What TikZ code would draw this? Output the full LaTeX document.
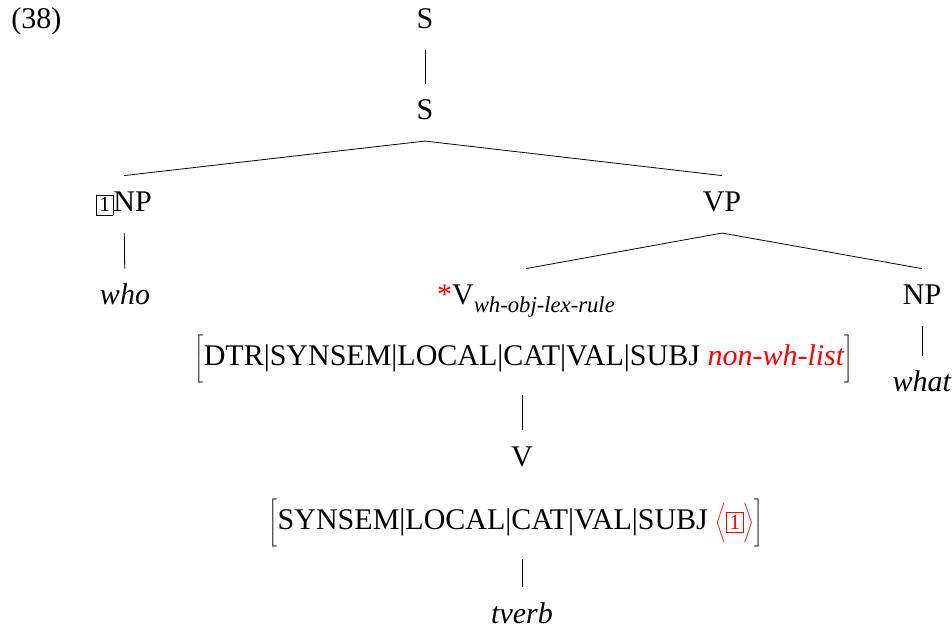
\documentclass[tikz,border=0pt]{standalone}
\usepackage{fontspec}
\setmainfont{Liberation Serif}

\newcommand{\tagnum}[1]{{\fboxsep=2pt\fboxrule=0.5pt\fbox{\fontsize{16}{16}\selectfont #1}}}
\newcommand{\avmbox}[1]{$\left[\vrule height 24pt depth 10pt width 0pt\mbox{#1}\right]$}
\newcommand{\tagseq}[1]{$\left\langle\vrule height 19pt depth 8pt width 0pt\mbox{#1}\right\rangle$}

\tikzset{every picture/.style={line width=0.6pt}}
\tikzset{
	cat/.style={anchor=base, inner xsep=0pt, inner ysep=12.5pt, text height=14.5pt, text depth=3pt, font=\fontsize{22.5}{27}\selectfont},
	avm/.style={anchor=center, inner xsep=0pt, inner ysep=9pt, font=\fontsize{22.5}{27}\selectfont}}

\begin{document}
\begin{tikzpicture}[x=0.75pt,y=0.75pt,yscale=-1,xscale=1]
	\useasboundingbox (0,0) rectangle (952,630);

	% Text Node
	\node[cat, anchor=base west] (ex) at (11,29) {(38)};
	% Text Node
	\node[cat] (s1) at (425,29) {S};
	% Text Node
	\node[cat] (s2) at (425,120) {S};
	% Text Node
	\node[cat] (np1) at (124,212) {\tagnum{1}NP};
	% Text Node
	\node[cat] (vp) at (722,212) {VP};
	% Text Node
	\node[cat] (who) at (125,305) {\textit{who}};
	% Text Node
	\node[cat] (v1) at (526,305) {\textcolor{red}{*}V\raisebox{-6pt}{\fontsize{17}{17}\selectfont\itshape wh-obj-lex-rule}};
	% Text Node
	\node[cat] (np2) at (922,305) {NP};
	% Text Node
	\node[cat] (what) at (922,392) {\textit{what}};
	% Text Node
	\node[avm] (avm1) at (524,358) {\avmbox{DTR|SYNSEM|LOCAL|CAT|VAL|SUBJ \textcolor{red}{\itshape non-wh-list}}};
	% Text Node
	\node[cat] (v2) at (522,466) {V};
	% Text Node
	\node[avm] (avm2) at (516,522) {\avmbox{SYNSEM|LOCAL|CAT|VAL|SUBJ\ \textcolor{red}{\tagseq{\tagnum{1}}}}};
	% Text Node
	\node[cat] (tverb) at (522,623) {\textit{tverb}};

	%Straight Lines
	\draw (s1) -- (s2) ;
	\draw (s2.south) -- (np1.north) ;
	\draw (s2.south) -- (vp.north) ;
	\draw (np1) -- (who) ;
	\draw (vp.south) -- (v1.north) ;
	\draw (vp.south) -- (np2.north) ;
	\draw (np2) -- (what) ;
	%Straight Lines
	\draw (v2 |- avm1.south) -- (v2.north) ;
	\draw (v2 |- avm2.south) -- (tverb.north) ;

\end{tikzpicture}
\end{document}
